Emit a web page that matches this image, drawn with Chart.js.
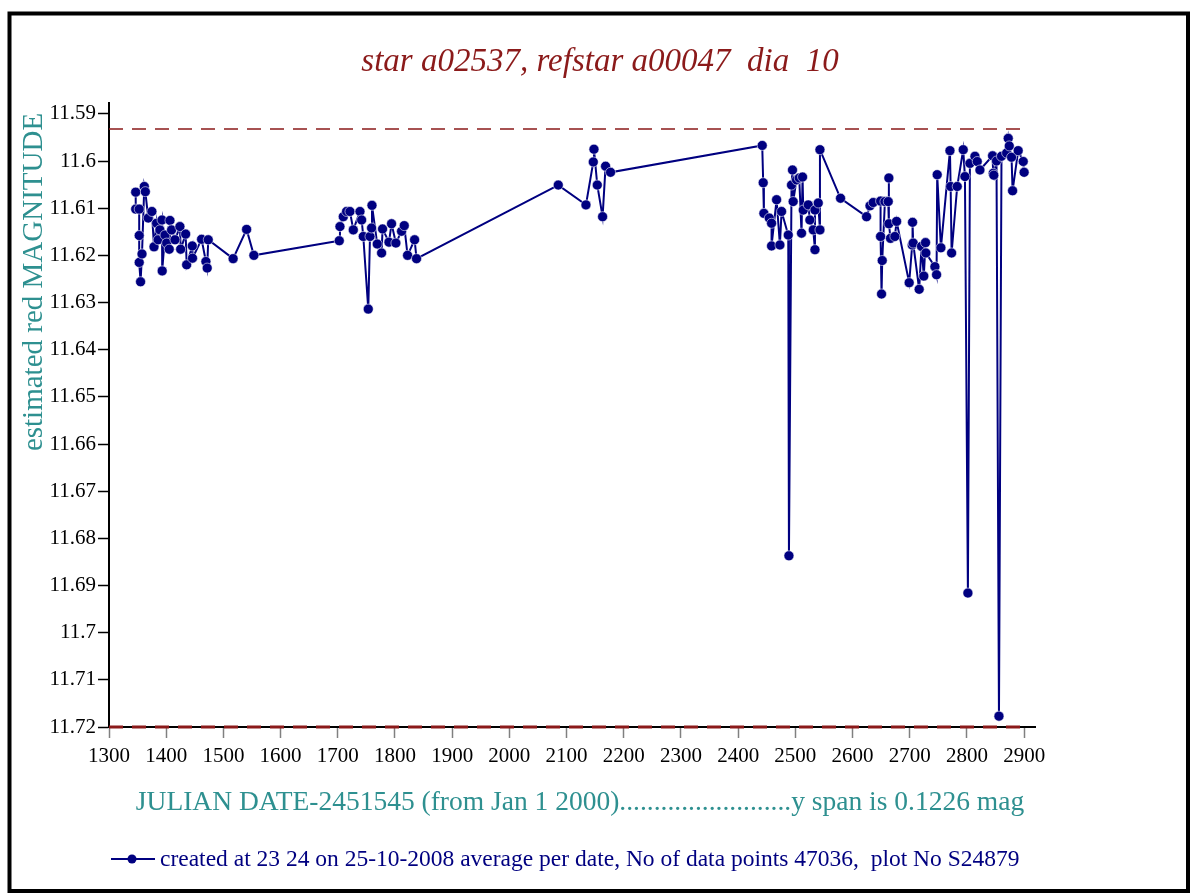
<!DOCTYPE html>
<html>
<head>
<meta charset="utf-8">
<script src="https://cdn.jsdelivr.net/npm/chart.js@4.4.1/dist/chart.umd.min.js"></script>
<style>
  html, body { margin: 0; padding: 0; background: #fff; }
  #wrap { width: 1192px; height: 894px; }
</style>
</head>
<body>
<div id="wrap"><canvas id="lc"></canvas></div>
<script>
/* ===== light curve data ===== */

const titleText = 'star a02537, refstar a00047  dia  10';
const yTitle = 'estimated red MAGNITUDE';
const xTitle = 'JULIAN DATE-2451545 (from Jan 1 2000).........................y span is 0.1226 mag';
const legendText = 'created at 23 24 on 25-10-2008 average per date, No of data points 47036,  plot No S24879';

const xTicks = [1300, 1400, 1500, 1600, 1700, 1800, 1900, 2000, 2100, 2200, 2300, 2400, 2500, 2600, 2700, 2800, 2900];
const yTicks = [11.59, 11.6, 11.61, 11.62, 11.63, 11.64, 11.65, 11.66, 11.67, 11.68, 11.69, 11.7, 11.71, 11.72];

// days since JD 2451545
const days = [
  1346.7, 1346.7, 1352.8, 1352.8, 1352.8, 1355.2, 1357.7, 1361.7, 1363.5, 1368.6,
  1375.0, 1378.7, 1383.2, 1386.0, 1389.0, 1392.7, 1393.0, 1397.9, 1400.8, 1405.3,
  1406.6, 1409.4, 1415.4, 1424.0, 1425.3, 1434.0, 1435.8, 1445.6, 1446.0, 1461.9,
  1469.4, 1471.7, 1473.5, 1517.0, 1540.6, 1553.3,
  1702.6, 1703.8, 1709.6, 1715.4, 1721.3, 1727.1, 1738.8, 1741.7, 1744.6, 1753.3,
  1756.3, 1759.1, 1759.8, 1769.0, 1776.6, 1778.3, 1789.5, 1794.0, 1801.6, 1811.5,
  1816.2, 1822.0, 1834.3, 1837.7,
  2085.5, 2133.9, 2146.7, 2147.9, 2153.7, 2163.0, 2168.2, 2176.9,
  2442.1, 2443.8, 2445.0, 2454.4, 2458.4, 2458.4, 2467.2, 2473.0, 2475.9, 2487.6,
  2488.8, 2493.3, 2495.0, 2496.2, 2502.0, 2506.8, 2510.8, 2512.6, 2513.8, 2522.6,
  2525.4, 2531.3, 2534.3, 2534.3, 2540.0, 2543.0, 2543.0, 2579.0, 2624.5, 2630.5,
  2636.2, 2649.0, 2649.0, 2650.7, 2651.9, 2656.6, 2662.4, 2663.5, 2663.5, 2666.4,
  2674.0, 2677.0, 2699.0, 2704.3, 2704.9, 2706.0, 2716.5, 2720.6, 2724.6, 2727.6,
  2728.2, 2744.0, 2746.9, 2748.0, 2754.5, 2770.3, 2771.5, 2773.2, 2783.0, 2793.5,
  2796.5, 2801.7, 2805.2, 2814.0, 2818.0, 2822.7, 2844.8, 2845.9, 2847.0, 2851.7,
  2856.0, 2860.4, 2869.4, 2872.2, 2874.0, 2878.0, 2879.8, 2889.6, 2898.4, 2900.0
];

const mags = [
  11.6066, 11.6102, 11.6102, 11.6158, 11.6215, 11.6256, 11.6197, 11.6054, 11.6065, 11.6121,
  11.6107, 11.6182, 11.6132, 11.6167, 11.6146, 11.6125, 11.6233, 11.6157, 11.6174, 11.6187,
  11.6126, 11.6146, 11.6167, 11.6139, 11.6187, 11.6155, 11.6220, 11.6180, 11.6206, 11.6166,
  11.6213, 11.6227, 11.6167, 11.6207, 11.6145, 11.6200,
  11.6169, 11.6139, 11.6118, 11.6107, 11.6107, 11.6146, 11.6107, 11.6125, 11.6160, 11.6314,
  11.6160, 11.6142, 11.6094, 11.6176, 11.6195, 11.6144, 11.6172, 11.6133, 11.6174, 11.6149,
  11.6137, 11.6200, 11.6167, 11.6207,
  11.6051, 11.6093, 11.6002, 11.5975, 11.6051, 11.6118, 11.6011, 11.6024,
  11.5967, 11.6046, 11.6111, 11.6121, 11.6132, 11.6180, 11.6082, 11.6178, 11.6107, 11.6157,
  11.6837, 11.6051, 11.6019, 11.6086, 11.6040, 11.6036, 11.6153, 11.6034, 11.6104, 11.6093,
  11.6125, 11.6146, 11.6188, 11.6104, 11.6089, 11.6146, 11.5976, 11.6079, 11.6118, 11.6095,
  11.6088, 11.6085, 11.6160, 11.6282, 11.6211, 11.6086, 11.6086, 11.6036, 11.6133, 11.6164,
  11.6160, 11.6128, 11.6258, 11.6178, 11.6130, 11.6174, 11.6272, 11.6181, 11.6244, 11.6173,
  11.6195, 11.6224, 11.6241, 11.6029, 11.6184, 11.5978, 11.6054, 11.6195, 11.6054, 11.5976,
  11.6033, 11.6916, 11.6005, 11.5990, 11.6001, 11.6019, 11.5989, 11.6026, 11.6030, 11.6000,
  11.7177, 11.5990, 11.5983, 11.5952, 11.5968, 11.5992, 11.6063, 11.5978, 11.6001, 11.6024
];

// dashed limit lines (upper / lower)
const limitDays = [1300, 2900];
const upperLimit = 11.5932;
const lowerLimit = 11.72;

const NAVY = '#000080';
const LIMIT_RED = '#8b1a1a';
const TEAL = '#2e9090';
const SERIF = '"Liberation Serif", "DejaVu Serif", serif';

document.addEventListener('DOMContentLoaded', () => {
  renderChart();
});

const decorPlugin = {
  id: 'decor',
  afterDraw(chart) {
    const ctx = chart.ctx;
    ctx.save();

    // outer frame
    ctx.strokeStyle = '#000';
    ctx.lineWidth = 4;
    ctx.strokeRect(9.5, 13.5, 1178.5, 877.5);

    // title
    ctx.fillStyle = '#8b1a1a';
    ctx.font = 'italic 33px ' + SERIF;
    ctx.textAlign = 'center';
    ctx.textBaseline = 'middle';
    ctx.fillText(titleText, 600, 62);

    // y axis title
    ctx.save();
    ctx.translate(34, 282);
    ctx.rotate(-Math.PI / 2);
    ctx.fillStyle = TEAL;
    ctx.font = '29px ' + SERIF;
    ctx.fillText(yTitle, 0, 0);
    ctx.restore();

    // x axis title
    ctx.fillStyle = TEAL;
    ctx.font = '27.5px ' + SERIF;
    ctx.fillText(xTitle, 580, 803);

    // legend
    ctx.strokeStyle = NAVY;
    ctx.lineWidth = 2;
    ctx.beginPath();
    ctx.moveTo(111, 859);
    ctx.lineTo(155, 859);
    ctx.stroke();
    ctx.fillStyle = NAVY;
    ctx.beginPath();
    ctx.arc(132, 859, 4.5, 0, Math.PI * 2);
    ctx.fill();
    ctx.font = '23.5px ' + SERIF;
    ctx.textAlign = 'left';
    ctx.fillText(legendText, 160, 860);

    ctx.restore();
  }
};

function renderChart() {
  const ctx = document.getElementById('lc').getContext('2d');

  new Chart(ctx, {
    type: 'scatter',
    data: {
      datasets: [
        {
          label: 'upper',
          data: limitDays.map(d => ({ x: d, y: upperLimit })),
          showLine: true,
          borderColor: LIMIT_RED,
          borderWidth: 1.5,
          borderDash: [14, 9],
          pointRadius: 0,
          clip: false,
          order: 2
        },
        {
          label: 'lower',
          data: limitDays.map(d => ({ x: d, y: lowerLimit })),
          showLine: true,
          borderColor: LIMIT_RED,
          borderWidth: 3,
          borderDash: [14, 9],
          pointRadius: 0,
          clip: false,
          order: 2
        },
        {
          label: legendText,
          data: days.map((d, i) => ({ x: d, y: mags[i] })),
          showLine: true,
          borderColor: NAVY,
          borderWidth: 2,
          pointRadius: 5,
          pointBackgroundColor: NAVY,
          pointBorderColor: 'rgba(255,255,255,0.7)',
          pointBorderWidth: 0.8,
          clip: false,
          order: 1
        }
      ]
    },
    options: {
      responsive: true,
      maintainAspectRatio: false,
      animation: false,
      layout: { padding: { left: 0, right: 157, top: 103, bottom: 0 } },
      plugins: {
        legend: { display: false },
        title: { display: false },
        tooltip: { enabled: false }
      },
      scales: {
        x: {
          type: 'linear',
          min: 1300,
          max: 2919,
          afterFit: s => { s.height = 167; },
          afterBuildTicks: s => { s.ticks = xTicks.map(v => ({ value: v })); },
          grid: { drawOnChartArea: false, drawTicks: true, tickLength: 11, tickColor: '#808080', tickWidth: 1.5 },
          border: { color: '#000', width: 2 },
          ticks: {
            color: '#000',
            padding: 6,
            maxRotation: 0,
            autoSkip: false,
            font: { family: SERIF, size: 21 },
            callback: v => String(v)
          }
        },
        y: {
          type: 'linear',
          reverse: true,
          min: 11.5877,
          max: 11.72,
          afterFit: s => { s.width = 109; },
          afterBuildTicks: s => { s.ticks = yTicks.map(v => ({ value: v })); },
          grid: { drawOnChartArea: false, drawTicks: true, tickLength: 11, tickColor: '#000', tickWidth: 1.5 },
          border: { color: '#000', width: 2 },
          ticks: {
            color: '#000',
            padding: 2,
            autoSkip: false,
            font: { family: SERIF, size: 21 },
            callback: v => String(parseFloat(Number(v).toFixed(2)))
          }
        }
      }
    },
    plugins: [decorPlugin]
  });
}
</script>
</body>
</html>
